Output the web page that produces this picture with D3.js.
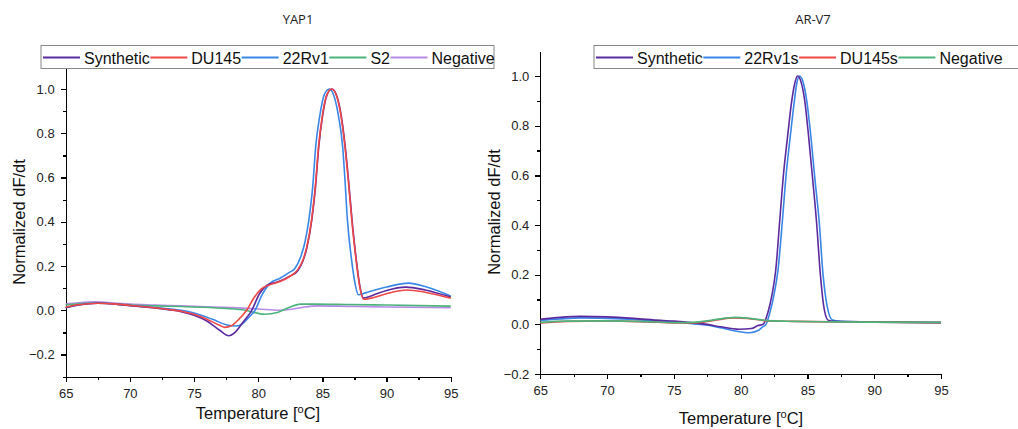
<!DOCTYPE html>
<meta charset="utf-8">
<style>
body { margin: 0; background: #fff; }
.axis text { font: 13px "Liberation Sans", Arial, sans-serif; fill: #222; }
.axis path, .axis line { stroke: #000; stroke-width: 1.3; shape-rendering: crispEdges; }
.title { font: 13px "Open Sans", sans-serif; fill: #222; }
.label { font: 16.5px "Liberation Sans", Arial, sans-serif; fill: #111; }
.legend text { font: 16px "Liberation Sans", Arial, sans-serif; fill: #111; }
.line { fill: none; stroke-width: 1.6; }
</style>
<body>
<div id="chart"></div>
<script src="https://d3js.org/d3.v7.min.js"></script>
<script>
// ---- data: YAP1 (temperature, normalized dF/dt)
var yapNames = ["Synthetic", "DU145", "22Rv1", "S2", "Negative"];
var yapColors = ["#5b2a9e", "#ef4646", "#3a86e6", "#4cb47a", "#b58be6"];
var yapSynthetic = [[65,0.012],[66,0.024],[67.5,0.032],[69,0.027],[70,0.021],[71.5,0.013],[73,0.003],[74,-0.006],[75,-0.022],[76,-0.048],[77,-0.09],[77.7,-0.115],[78.2,-0.1],[78.8,-0.055],[79.5,0.0],[80.1,0.075],[80.66,0.112],[81.5,0.128],[82.5,0.155],[83.1,0.18],[83.5,0.225],[83.8,0.285],[84.18,0.41],[84.47,0.56],[84.72,0.74],[85.02,0.88],[85.37,0.975],[85.75,1.0],[86.12,0.97],[86.47,0.88],[86.78,0.74],[87.02,0.6],[87.31,0.41],[87.62,0.24],[87.92,0.11],[88.2,0.055],[88.8,0.065],[90,0.09],[91.5,0.105],[93,0.092],[95,0.06]];
var yapDU145 = [[65,0.015],[66,0.025],[67.5,0.032],[69,0.028],[70,0.022],[71.5,0.014],[73,0.004],[74,-0.004],[75,-0.018],[76,-0.04],[77,-0.068],[77.4,-0.077],[77.9,-0.07],[78.5,-0.04],[79.1,0.0],[79.6,0.05],[80.2,0.095],[80.9,0.115],[81.7,0.13],[82.5,0.155],[83.1,0.185],[83.5,0.23],[83.8,0.29],[84.16,0.41],[84.45,0.56],[84.7,0.74],[85.0,0.88],[85.35,0.975],[85.73,1.0],[86.1,0.97],[86.45,0.88],[86.76,0.74],[87.0,0.6],[87.29,0.41],[87.6,0.24],[87.9,0.11],[88.2,0.05],[88.8,0.055],[90,0.075],[91.57,0.092],[93,0.082],[95,0.055]];
var yap22Rv1 = [[65,0.012],[66,0.025],[67.5,0.033],[69,0.028],[70,0.022],[71.5,0.015],[73,0.007],[74,0.0],[75,-0.012],[75.5,-0.021],[76.5,-0.042],[77.5,-0.065],[78.3,-0.071],[78.8,-0.06],[79.3,-0.03],[79.75,0.0],[80.3,0.07],[80.94,0.123],[81.7,0.145],[82.4,0.17],[82.87,0.19],[83.3,0.24],[83.65,0.31],[83.95,0.41],[84.25,0.56],[84.48,0.74],[84.8,0.88],[85.15,0.975],[85.54,1.0],[85.9,0.97],[86.25,0.88],[86.58,0.74],[86.75,0.6],[86.95,0.41],[87.25,0.24],[87.55,0.12],[87.8,0.07],[88.4,0.08],[90,0.105],[91.7,0.123],[93,0.108],[95,0.065]];
var yapS2 = [[65,0.024],[66,0.03],[67.5,0.033],[69,0.028],[70,0.024],[72,0.02],[74,0.017],[75.5,0.014],[77.5,0.008],[79,0.0],[80.5,-0.018],[81.5,-0.01],[82.3,0.01],[83.3,0.028],[84.5,0.028],[87,0.026],[90,0.024],[95,0.019]];
var yapNegative = [[65,0.028],[66,0.034],[67.3,0.038],[69,0.032],[70,0.028],[72,0.024],[74,0.02],[76,0.016],[78,0.012],[80,0.006],[81.7,0.0],[82.5,0.004],[83.5,0.014],[84.6,0.02],[87,0.018],[90,0.015],[95,0.012]];
var yapYMajor = [-0.2, 0, 0.2, 0.4, 0.6, 0.8, 1.0];
var yapYMinor = [-0.3, -0.1, 0.1, 0.3, 0.5, 0.7, 0.9];

// ---- data: AR-V7
var arNames = ["Synthetic", "22Rv1s", "DU145s", "Negative"];
var arColors = ["#5b2a9e", "#3a86e6", "#ef4646", "#4cb47a"];
var arSynthetic = [[65,0.02],[66.5,0.028],[68,0.032],[70,0.03],[72,0.024],[74,0.016],[75,0.013],[76.5,0.006],[77.5,0.0],[78.5,-0.01],[79.9,-0.02],[80.8,-0.017],[81.3,-0.005],[81.68,0.0],[82.05,0.05],[82.35,0.12],[82.63,0.22],[82.93,0.42],[83.2,0.6],[83.5,0.75],[83.8,0.89],[84.05,0.97],[84.25,1.0],[84.5,0.98],[84.8,0.9],[85.1,0.75],[85.4,0.58],[85.67,0.42],[85.97,0.2],[86.2,0.08],[86.54,0.017],[87,0.012],[90,0.01],[95,0.007]];
var ar22Rv1s = [[65,0.016],[66.5,0.022],[68,0.026],[70,0.024],[72,0.02],[74,0.013],[75,0.01],[76.5,0.002],[77.5,-0.004],[78.5,-0.014],[79.7,-0.028],[80.68,-0.034],[81.3,-0.025],[81.65,-0.01],[81.9,0.0],[82.2,0.05],[82.5,0.12],[82.8,0.22],[83.13,0.42],[83.4,0.6],[83.7,0.75],[84.0,0.89],[84.2,0.97],[84.4,1.0],[84.65,0.98],[84.95,0.9],[85.27,0.75],[85.57,0.58],[85.87,0.42],[86.17,0.2],[86.45,0.08],[86.87,0.017],[87.5,0.012],[90,0.009],[95,0.007]];
var arDU145s = [[65,0.006],[67,0.012],[70,0.014],[73,0.01],[75,0.006],[76.5,0.006],[78,0.016],[79.5,0.026],[80.5,0.024],[82,0.014],[84,0.012],[87,0.01],[90,0.009],[95,0.007]];
var arNegative = [[65,0.008],[67,0.013],[70,0.014],[73,0.011],[75,0.007],[76.5,0.008],[78,0.018],[79.6,0.028],[80.7,0.024],[82,0.015],[84,0.012],[87,0.01],[90,0.009],[95,0.008]];
var arYMajor = [-0.2, 0, 0.2, 0.4, 0.6, 0.8, 1.0];
var arYMinor = [-0.1, 0.1, 0.3, 0.5, 0.7, 0.9];

var xMajor = [65, 70, 75, 80, 85, 90, 95];
var xMinor = [67.5, 72.5, 77.5, 82.5, 87.5, 92.5];

var svg = d3.select("#chart").append("svg").attr("width", 1018).attr("height", 429);

function drawPanel(p) {
  var x = d3.scaleLinear().domain([65, 95]).range(p.xr);
  var y = d3.scaleLinear().domain(p.yd).range(p.yr);

  var g = svg.append("g");

  // minor ticks
  g.append("g").attr("class", "axis").attr("transform", "translate(0," + p.yr[0] + ")")
    .call(d3.axisBottom(x).tickValues(xMinor).tickSize(3).tickSizeOuter(0).tickFormat(""));
  g.append("g").attr("class", "axis").attr("transform", "translate(" + p.xr[0] + ",0)")
    .call(d3.axisLeft(y).tickValues(p.yMinor).tickSize(3).tickSizeOuter(0).tickFormat(""));
  // major ticks
  g.append("g").attr("class", "axis").attr("transform", "translate(0," + p.yr[0] + ")")
    .call(d3.axisBottom(x).tickValues(xMajor).tickSize(5).tickSizeOuter(0).tickPadding(7).tickFormat(d3.format("d")));
  g.append("g").attr("class", "axis").attr("transform", "translate(" + p.xr[0] + ",0)")
    .call(d3.axisLeft(y).tickValues(p.yMajor).tickSize(5).tickSizeOuter(0).tickPadding(6).tickFormat(d3.format(".1f")));

  var line = d3.line().x(function(d) { return x(d[0]); }).y(function(d) { return y(d[1]); }).curve(d3.curveMonotoneX);
  p.order.forEach(function(i) {
    g.append("path").attr("class", "line").attr("d", line(p.series[i])).attr("stroke", p.colors[i]);
  });

  g.append("text").attr("class", "title").attr("text-anchor", "middle")
    .attr("x", p.titleX).attr("y", 24).text(p.title);

  g.append("text").attr("class", "label").attr("text-anchor", "middle")
    .attr("transform", "translate(" + p.ylabX + "," + p.ylabY + ") rotate(-90)")
    .text("Normalized dF/dt");

  var xl = g.append("text").attr("class", "label").attr("text-anchor", "middle")
    .attr("x", p.xlabX).attr("y", p.xlabY);
  xl.append("tspan").text("Temperature [");
  xl.append("tspan").attr("dy", -6).style("font-size", "11px").text("o");
  xl.append("tspan").attr("dy", 6).text("C]");

  // legend
  var lg = g.append("g").attr("class", "legend");
  lg.append("rect").attr("x", p.legX).attr("y", p.legY).attr("width", p.legW).attr("height", 23)
    .attr("fill", "#fff").attr("stroke", "#888").attr("stroke-width", 1);
  var cx = p.legX + 2;
  p.names.forEach(function(n, i) {
    lg.append("line").attr("x1", cx).attr("x2", cx + 37).attr("y1", p.legY + 12).attr("y2", p.legY + 12)
      .attr("stroke", p.colors[i]).attr("stroke-width", 2);
    var t = lg.append("text").attr("x", cx + 41).attr("y", p.legY + 18).text(n);
    cx = cx + 41 + t.node().getComputedTextLength() + 0.5;
  });
}

drawPanel({
  xr: [65.7, 450.7], yd: [-0.3, 1.1], yr: [376.7, 66.9],
  yMajor: yapYMajor, yMinor: yapYMinor,
  series: [yapSynthetic, yapDU145, yap22Rv1, yapS2, yapNegative],
  names: yapNames, colors: yapColors, order: [4, 3, 2, 0, 1],
  title: "YAP1", titleX: 298,
  ylabX: 25, ylabY: 222, xlabX: 258, xlabY: 419,
  legX: 41, legY: 45.5, legW: 453
});

drawPanel({
  xr: [540.3, 941], yd: [-0.2, 1.1], yr: [374, 51.2],
  yMajor: arYMajor, yMinor: arYMinor,
  series: [arSynthetic, ar22Rv1s, arDU145s, arNegative],
  names: arNames, colors: arColors, order: [1, 0, 2, 3],
  title: "AR-V7", titleX: 813,
  ylabX: 500, ylabY: 212, xlabX: 741, xlabY: 424,
  legX: 594, legY: 45.5, legW: 430
});
</script>
</body>
